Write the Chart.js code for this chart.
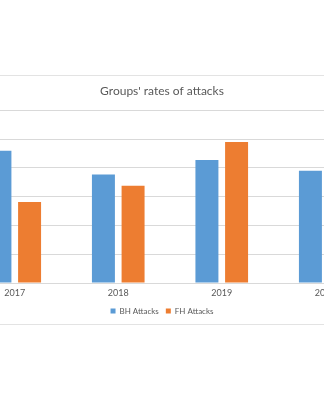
<!DOCTYPE html>
<html>
<head>
<meta charset="utf-8">
<script src="https://cdn.jsdelivr.net/npm/chart.js@4"></script>
<style>
  html, body { margin: 0; padding: 0; background: #fff; overflow: hidden; width: 324px; height: 400px; }
  #frame {
    position: absolute; left: -64px; top: 75px;
    width: 450px; height: 248px;
    border: 1px solid #e3e3e3;
  }
  #myChart { display: block; }
</style>
</head>
<body>
<div id="frame"><canvas id="myChart" width="450" height="248"></canvas></div>
<script>
// attacks per year, per group
var years = ["2017", "2018", "2019", "2020"];
var bhAttacks = [46, 37.7, 42.8, 39];
var fhAttacks = [28.2, 33.8, 49, 44];
var yTicks = [0, 10, 20, 30, 40, 50, 60];

var textColor = "#595959";
var gridColor = "#d9d9d9";
var fontFamily = "Lato, 'Open Sans', sans-serif";

const ctx = document.getElementById("myChart");
const myChart = new Chart(ctx, {
  type: "bar",
  data: {
    labels: years,
    datasets: [
      {
        label: "BH Attacks",
        data: bhAttacks,
        backgroundColor: "#5b9bd5",
        borderWidth: 0,
      },
      {
        label: "FH Attacks",
        data: fhAttacks,
        backgroundColor: "#ed7d31",
        borderWidth: 0,
      },
    ],
  },
  options: {
    responsive: false,
    animation: false,
    categoryPercentage: 0.573,
    barPercentage: 0.775,
    layout: {
      padding: { left: 10, right: 10, top: 0, bottom: -1 },
    },
    scales: {
      x: {
        grid: { display: false, drawTicks: false },
        border: { color: gridColor },
        ticks: {
          color: textColor,
          padding: 5,
          font: { size: 9, family: fontFamily },
        },
        afterFit: function (scale) {
          scale.height = 17;
        },
      },
      y: {
        min: yTicks[0],
        max: yTicks[yTicks.length - 1],
        grid: { color: gridColor, drawTicks: false },
        border: { display: false },
        ticks: {
          stepSize: yTicks[1] - yTicks[0],
          color: textColor,
          padding: 4,
          font: { size: 9, family: fontFamily },
        },
        afterFit: function (scale) {
          scale.width = 16;
        },
      },
    },
    plugins: {
      title: {
        display: true,
        text: "Groups' rates of attacks",
        color: textColor,
        padding: { top: 8, bottom: 12 },
        font: { size: 12, weight: "normal", family: fontFamily },
      },
      legend: {
        position: "bottom",
        labels: {
          boxWidth: 5,
          boxHeight: 5,
          padding: 7,
          color: textColor,
          font: { size: 8, family: fontFamily },
        },
      },
      tooltip: { enabled: false },
    },
  },
});
</script>
</body>
</html>
